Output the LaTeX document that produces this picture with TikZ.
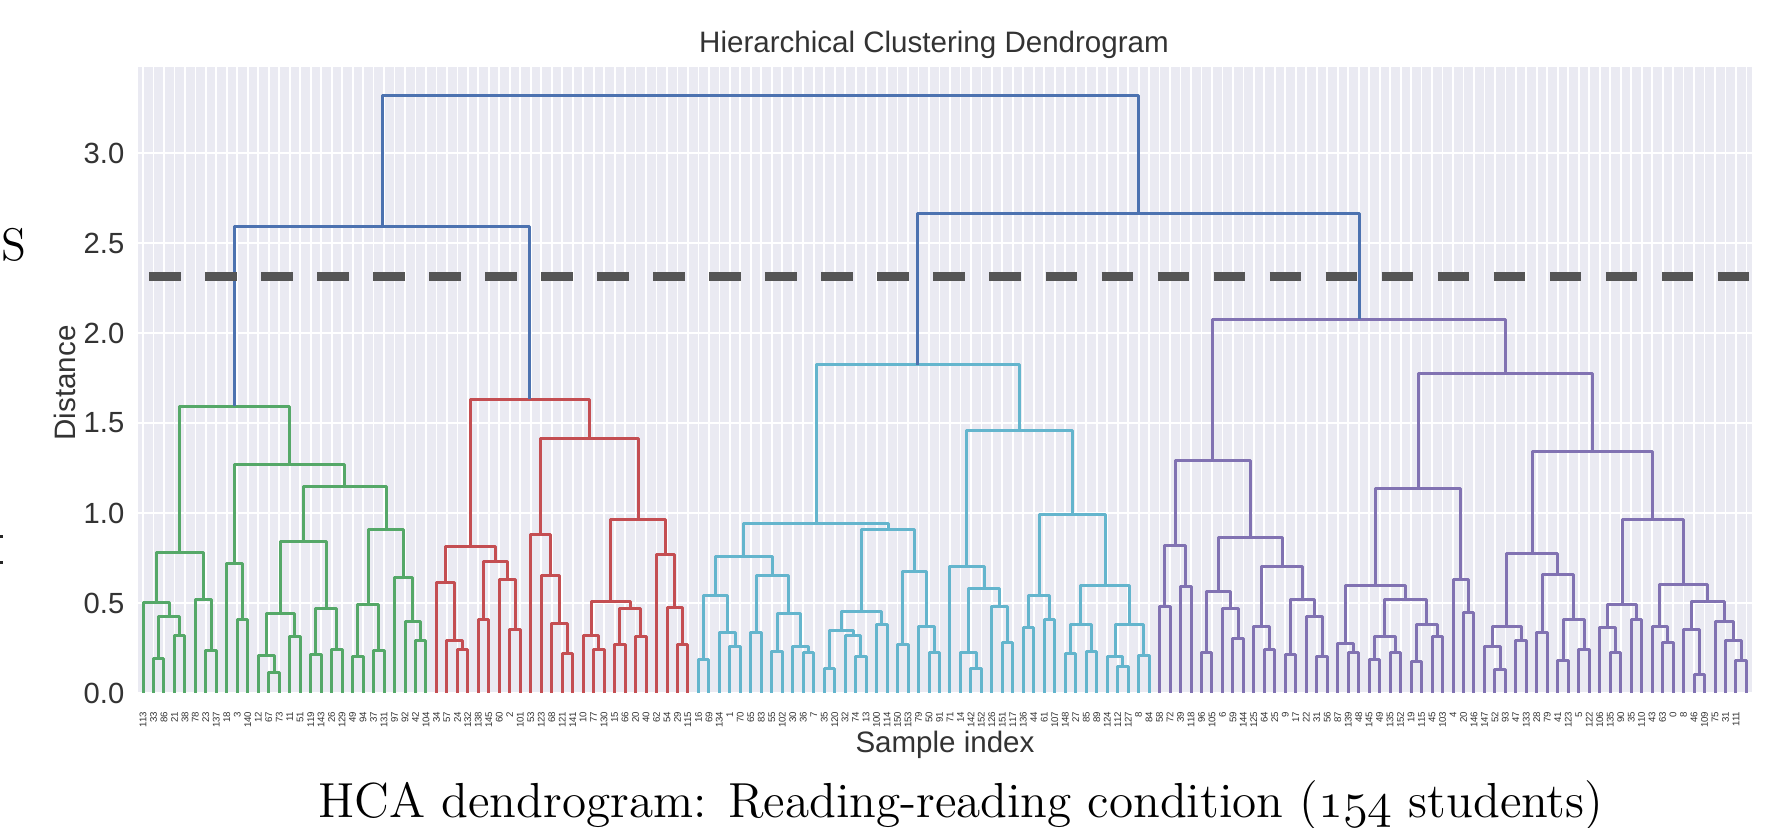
\documentclass[tikz,border=0pt]{standalone}
\usepackage{fontspec}
\newfontfamily\axfont{Liberation Sans}
\usetikzlibrary{calc}

\definecolor{sbg}{HTML}{EAEAF2}
\definecolor{stxt}{HTML}{333333}
\definecolor{sgreen}{HTML}{55A868}
\definecolor{sred}{HTML}{C44E52}
\definecolor{scyan}{HTML}{64B5CD}
\definecolor{smag}{HTML}{8172B2}
\definecolor{sblue}{HTML}{4C72B0}
\definecolor{cutline}{HTML}{555555}

\tikzset{
  link/.style={line width=0.03cm, line join=round},
  lkg/.style={link, draw=sgreen},
  lkr/.style={link, draw=sred},
  lkc/.style={link, draw=scyan},
  lkm/.style={link, draw=smag},
  lkb/.style={link, draw=sblue},
  grid line/.style={draw=white, line width=0.018cm},
  ytk/.style={font=\axfont\fontsize{8.3}{10}\selectfont, text=stxt, anchor=east, inner sep=0},
  leaflbl/.style={font=\axfont\fontsize{2.75}{3.3}\selectfont, text=stxt, rotate=90, anchor=east, inner sep=0},
  axlbl/.style={font=\axfont\fontsize{8.4}{10}\selectfont, text=stxt, inner sep=0},
}

% merge two clusters at a given distance: name, left, right, distance, style
\newcommand\dmerge[5]{%
  \path let \p1=(#2), \p2=(#3), \p3=(0,{693-180*#4}) in
    coordinate (#1) at ({0.5*\x1+0.5*\x2},\y3);
  \draw[#5] (#2) |- (#1) -| (#3);}

\begin{document}
\begin{tikzpicture}[x=0.01cm, y=-0.01cm]
\useasboundingbox (0,0) rectangle (1781,828);
\fill[white] (0,0) rectangle (1781,828);

% axes background and grid
\fill[sbg] (138,67) rectangle (1752,693);
\foreach \i in {0,...,153} {
  \coordinate (L\i) at ({143+10.48*\i},693);
  \draw[grid line] ({143+10.48*\i},67) -- ({143+10.48*\i},693);
}
\foreach \v [count=\k] in {0.0,0.5,1.0,1.5,2.0,2.5,3.0} {
  \draw[grid line] (138,{693-180*\v}) -- (1752,{693-180*\v});
  \node[ytk] (yt\k) at (125,{693-180*\v}) {\v};
}

% green cluster
\dmerge{g1}{L1}{L2}{0.19}{lkg}
\dmerge{g2}{L3}{L4}{0.32}{lkg}
\dmerge{g3}{g1}{g2}{0.424}{lkg}
\dmerge{g4}{L0}{g3}{0.50}{lkg}
\dmerge{g5}{L6}{L7}{0.235}{lkg}
\dmerge{g6}{L5}{g5}{0.52}{lkg}
\dmerge{g7}{g4}{g6}{0.78}{lkg}
\dmerge{g8}{L9}{L10}{0.406}{lkg}
\dmerge{g9}{L8}{g8}{0.717}{lkg}
\dmerge{g10}{L12}{L13}{0.115}{lkg}
\dmerge{g11}{L11}{g10}{0.208}{lkg}
\dmerge{g12}{L14}{L15}{0.313}{lkg}
\dmerge{g13}{g11}{g12}{0.444}{lkg}
\dmerge{g14}{L16}{L17}{0.216}{lkg}
\dmerge{g15}{L18}{L19}{0.244}{lkg}
\dmerge{g16}{g14}{g15}{0.472}{lkg}
\dmerge{g17}{g13}{g16}{0.842}{lkg}
\dmerge{g18}{L20}{L21}{0.2}{lkg}
\dmerge{g19}{L22}{L23}{0.234}{lkg}
\dmerge{g20}{g18}{g19}{0.49}{lkg}
\dmerge{g21}{L26}{L27}{0.294}{lkg}
\dmerge{g22}{L25}{g21}{0.396}{lkg}
\dmerge{g23}{L24}{g22}{0.643}{lkg}
\dmerge{g24}{g20}{g23}{0.908}{lkg}
\dmerge{g25}{g17}{g24}{1.148}{lkg}
\dmerge{g26}{g9}{g25}{1.272}{lkg}
\dmerge{g27}{g7}{g26}{1.592}{lkg}

% red cluster
\dmerge{r1}{L30}{L31}{0.243}{lkr}
\dmerge{r2}{L29}{r1}{0.29}{lkr}
\dmerge{r3}{L28}{r2}{0.613}{lkr}
\dmerge{r4}{L32}{L33}{0.41}{lkr}
\dmerge{r5}{L35}{L36}{0.354}{lkr}
\dmerge{r6}{L34}{r5}{0.628}{lkr}
\dmerge{r7}{r4}{r6}{0.73}{lkr}
\dmerge{r8}{r3}{r7}{0.813}{lkr}
\dmerge{r9}{L40}{L41}{0.217}{lkr}
\dmerge{r10}{L39}{r9}{0.387}{lkr}
\dmerge{r11}{L38}{r10}{0.65}{lkr}
\dmerge{r12}{L37}{r11}{0.878}{lkr}
\dmerge{r13}{L43}{L44}{0.243}{lkr}
\dmerge{r14}{L42}{r13}{0.322}{lkr}
\dmerge{r15}{L45}{L46}{0.272}{lkr}
\dmerge{r16}{L47}{L48}{0.313}{lkr}
\dmerge{r17}{r15}{r16}{0.467}{lkr}
\dmerge{r18}{r14}{r17}{0.507}{lkr}
\dmerge{r19}{L51}{L52}{0.272}{lkr}
\dmerge{r20}{L50}{r19}{0.474}{lkr}
\dmerge{r21}{L49}{r20}{0.772}{lkr}
\dmerge{r22}{r18}{r21}{0.965}{lkr}
\dmerge{r23}{r12}{r22}{1.415}{lkr}
\dmerge{r24}{r8}{r23}{1.631}{lkr}

% cyan cluster
\dmerge{c1}{L53}{L54}{0.187}{lkc}
\dmerge{c2}{L56}{L57}{0.257}{lkc}
\dmerge{c3}{L55}{c2}{0.337}{lkc}
\dmerge{c4}{c1}{c3}{0.54}{lkc}
\dmerge{c5}{L58}{L59}{0.337}{lkc}
\dmerge{c6}{L60}{L61}{0.23}{lkc}
\dmerge{c7}{L63}{L64}{0.224}{lkc}
\dmerge{c8}{L62}{c7}{0.257}{lkc}
\dmerge{c9}{c6}{c8}{0.443}{lkc}
\dmerge{c10}{c5}{c9}{0.652}{lkc}
\dmerge{c11}{c4}{c10}{0.757}{lkc}
\dmerge{c12}{L65}{L66}{0.137}{lkc}
\dmerge{c13}{L68}{L69}{0.202}{lkc}
\dmerge{c14}{L67}{c13}{0.319}{lkc}
\dmerge{c15}{c12}{c14}{0.346}{lkc}
\dmerge{c16}{L70}{L71}{0.383}{lkc}
\dmerge{c17}{c15}{c16}{0.452}{lkc}
\dmerge{c18}{L72}{L73}{0.27}{lkc}
\dmerge{c19}{L75}{L76}{0.224}{lkc}
\dmerge{c20}{L74}{c19}{0.369}{lkc}
\dmerge{c21}{c18}{c20}{0.674}{lkc}
\dmerge{c22}{c17}{c21}{0.906}{lkc}
\dmerge{c23}{c11}{c22}{0.939}{lkc}
\dmerge{c24}{L79}{L80}{0.137}{lkc}
\dmerge{c25}{L78}{c24}{0.224}{lkc}
\dmerge{c26}{L82}{L83}{0.28}{lkc}
\dmerge{c27}{L81}{c26}{0.483}{lkc}
\dmerge{c28}{c25}{c27}{0.578}{lkc}
\dmerge{c29}{L77}{c28}{0.702}{lkc}
\dmerge{c30}{L84}{L85}{0.363}{lkc}
\dmerge{c31}{L86}{L87}{0.409}{lkc}
\dmerge{c32}{c30}{c31}{0.54}{lkc}
\dmerge{c33}{L88}{L89}{0.217}{lkc}
\dmerge{c34}{L90}{L91}{0.233}{lkc}
\dmerge{c35}{c33}{c34}{0.378}{lkc}
\dmerge{c36}{L93}{L94}{0.146}{lkc}
\dmerge{c37}{L92}{c36}{0.202}{lkc}
\dmerge{c38}{L95}{L96}{0.207}{lkc}
\dmerge{c39}{c37}{c38}{0.378}{lkc}
\dmerge{c40}{c35}{c39}{0.596}{lkc}
\dmerge{c41}{c32}{c40}{0.989}{lkc}
\dmerge{c42}{c29}{c41}{1.461}{lkc}
\dmerge{c43}{c23}{c42}{1.824}{lkc}

% purple cluster
\dmerge{p1}{L97}{L98}{0.48}{lkm}
\dmerge{p2}{L99}{L100}{0.591}{lkm}
\dmerge{p3}{p1}{p2}{0.822}{lkm}
\dmerge{p4}{L101}{L102}{0.224}{lkm}
\dmerge{p5}{L104}{L105}{0.304}{lkm}
\dmerge{p6}{L103}{p5}{0.47}{lkm}
\dmerge{p7}{p4}{p6}{0.565}{lkm}
\dmerge{p8}{L107}{L108}{0.239}{lkm}
\dmerge{p9}{L106}{p8}{0.37}{lkm}
\dmerge{p10}{L109}{L110}{0.215}{lkm}
\dmerge{p11}{L112}{L113}{0.2}{lkm}
\dmerge{p12}{L111}{p11}{0.424}{lkm}
\dmerge{p13}{p10}{p12}{0.52}{lkm}
\dmerge{p14}{p9}{p13}{0.70}{lkm}
\dmerge{p15}{p7}{p14}{0.862}{lkm}
\dmerge{p16}{p3}{p15}{1.289}{lkm}
\dmerge{p17}{L115}{L116}{0.224}{lkm}
\dmerge{p18}{L114}{p17}{0.276}{lkm}
\dmerge{p19}{L117}{L118}{0.187}{lkm}
\dmerge{p20}{L119}{L120}{0.224}{lkm}
\dmerge{p21}{p19}{p20}{0.313}{lkm}
\dmerge{p22}{L121}{L122}{0.174}{lkm}
\dmerge{p23}{L123}{L124}{0.313}{lkm}
\dmerge{p24}{p22}{p23}{0.378}{lkm}
\dmerge{p25}{p21}{p24}{0.517}{lkm}
\dmerge{p26}{p18}{p25}{0.596}{lkm}
\dmerge{p27}{L126}{L127}{0.448}{lkm}
\dmerge{p28}{L125}{p27}{0.633}{lkm}
\dmerge{p29}{p26}{p28}{1.137}{lkm}
\dmerge{p30}{L129}{L130}{0.128}{lkm}
\dmerge{p31}{L128}{p30}{0.261}{lkm}
\dmerge{p32}{L131}{L132}{0.291}{lkm}
\dmerge{p33}{p31}{p32}{0.372}{lkm}
\dmerge{p34}{L133}{L134}{0.335}{lkm}
\dmerge{p35}{L135}{L136}{0.178}{lkm}
\dmerge{p36}{L137}{L138}{0.243}{lkm}
\dmerge{p37}{p35}{p36}{0.406}{lkm}
\dmerge{p38}{p34}{p37}{0.661}{lkm}
\dmerge{p39}{p33}{p38}{0.776}{lkm}
\dmerge{p40}{L140}{L141}{0.224}{lkm}
\dmerge{p41}{L139}{p40}{0.363}{lkm}
\dmerge{p42}{L142}{L143}{0.406}{lkm}
\dmerge{p43}{p41}{p42}{0.493}{lkm}
\dmerge{p44}{L145}{L146}{0.28}{lkm}
\dmerge{p45}{L144}{p44}{0.369}{lkm}
\dmerge{p46}{L148}{L149}{0.1}{lkm}
\dmerge{p47}{L147}{p46}{0.354}{lkm}
\dmerge{p48}{L152}{L153}{0.178}{lkm}
\dmerge{p49}{L151}{p48}{0.291}{lkm}
\dmerge{p50}{L150}{p49}{0.396}{lkm}
\dmerge{p51}{p47}{p50}{0.507}{lkm}
\dmerge{p52}{p45}{p51}{0.604}{lkm}
\dmerge{p53}{p43}{p52}{0.965}{lkm}
\dmerge{p54}{p39}{p53}{1.344}{lkm}
\dmerge{p55}{p29}{p54}{1.775}{lkm}
\dmerge{p56}{p16}{p55}{2.075}{lkm}

% links above the colour threshold
\dmerge{b1}{g27}{r24}{2.594}{lkb}
\dmerge{b2}{c43}{p56}{2.664}{lkb}
\dmerge{b3}{b1}{b2}{3.317}{lkb}

% leaf labels
\foreach \t [count=\i from 0] in {113,33,86,21,38,78,23,137,18,3,140,12,67,73,11,51,119,143,26,129,49,94,37,131,97,92,42,104,
  34,57,24,132,138,145,60,2,101,53,123,68,121,141,10,77,130,15,66,20,40,62,54,29,115,
  16,69,134,1,70,65,83,55,102,30,36,7,35,120,32,74,13,100,114,150,153,79,50,91,71,14,142,152,126,151,117,136,44,61,107,148,27,85,89,124,112,127,8,84,
  58,72,39,118,96,105,6,59,144,125,64,25,9,17,22,31,56,87,139,48,145,49,135,152,19,115,45,103,4,20,146,147,52,93,47,133,28,79,41,123,5,122,106,135,90,35,110,43,63,0,8,46,109,75,31,111}
  \node[leaflbl] (tk\i) at ({143+10.48*\i},711) {\t};

% axis labels and title
\node[axlbl, rotate=90] (ylab) at (65,383) {Distance};
\node[axlbl, anchor=base] (xlab) at (945,753) {Sample index};
\node[axlbl, anchor=base] (title) at (934,53) {Hierarchical Clustering Dendrogram};

% cut-off threshold
\draw[cutline, line width=0.085cm, dash pattern=on 0.315cm off 0.245cm] (149,276.7) -- (1752,276.7);

% caption and fragments of neighbouring text
\node[font=\fontsize{14}{16}\selectfont, anchor=base, inner sep=0] (cap) at (961,818)
  {HCA dendrogram: Reading-reading condition ({\fontencoding{OML}\fontfamily{cmm}\fontseries{m}\fontshape{it}\selectfont 154} students)};
\node[font=\fontsize{13}{16}\selectfont, anchor=base west, inner sep=0] (frag) at (1,261) {S};
\fill[black!85] (0,535) rectangle (3,538);
\fill[black!85] (0,561) rectangle (3,564);
\end{tikzpicture}
\end{document}
